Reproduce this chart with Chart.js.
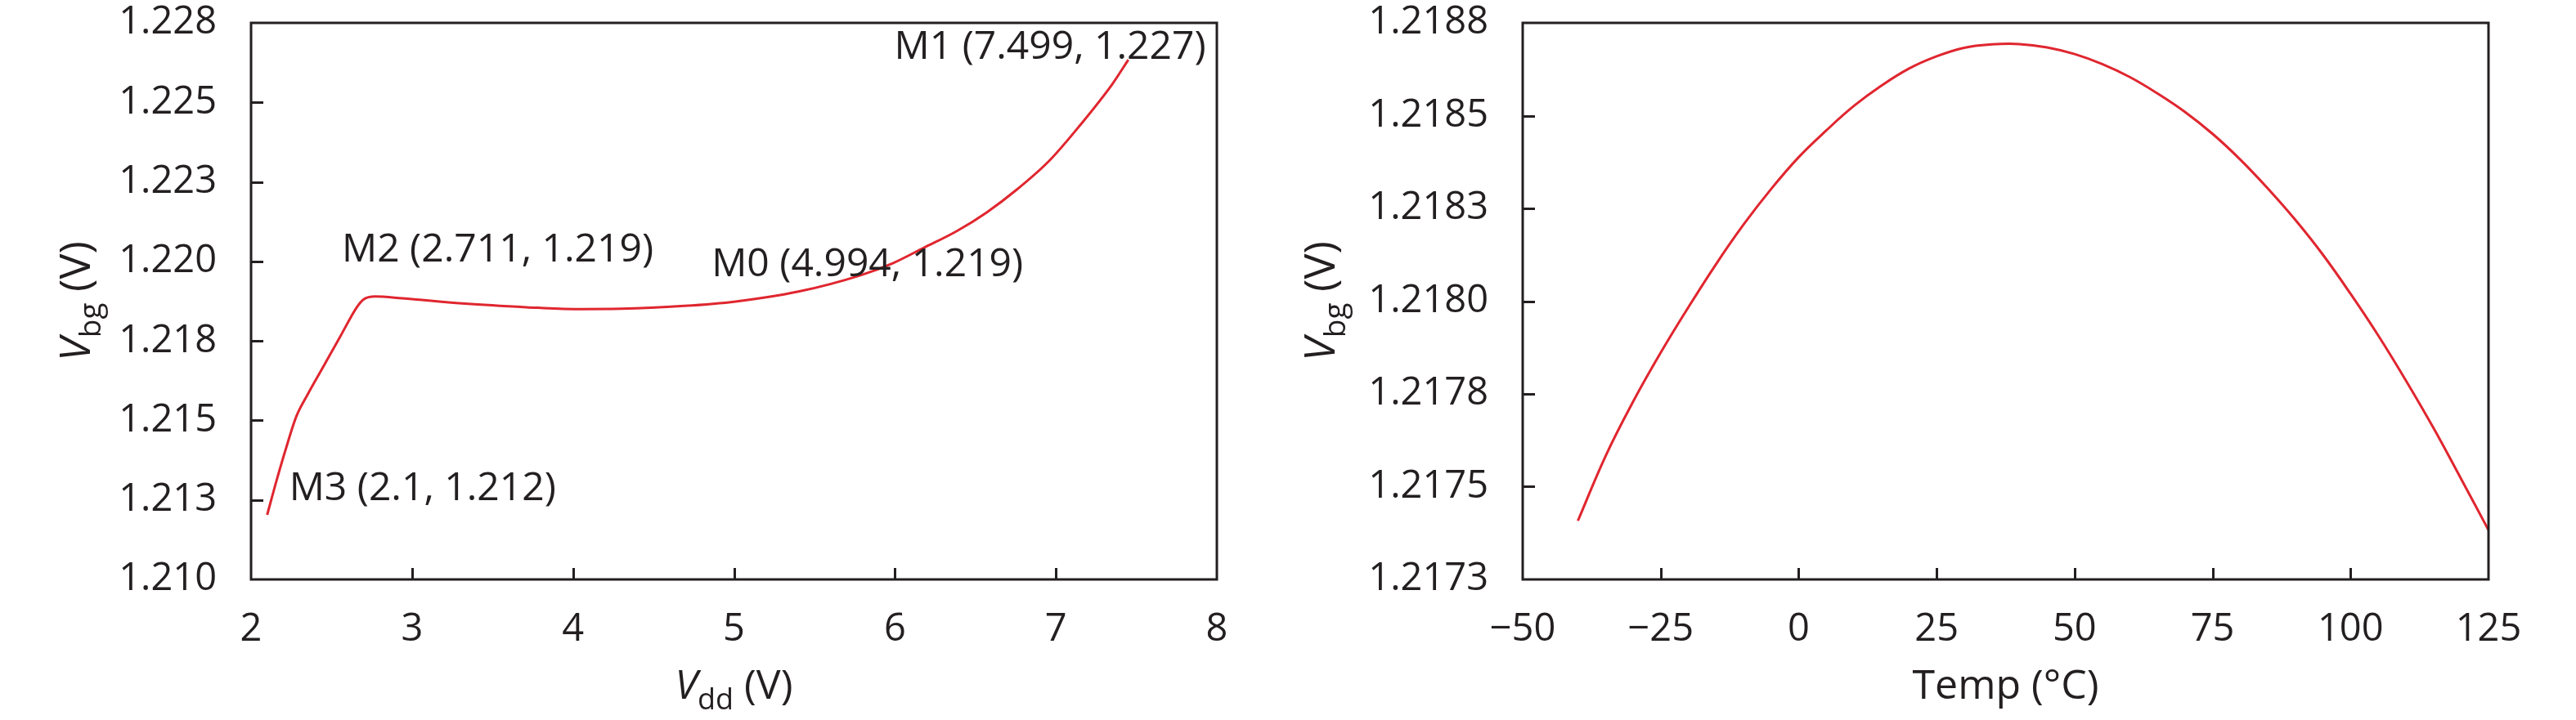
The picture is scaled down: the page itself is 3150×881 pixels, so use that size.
<!DOCTYPE html>
<html><head><meta charset="utf-8">
<script src="https://cdn.jsdelivr.net/npm/chart.js@4.4.1/dist/chart.umd.min.js"></script>
<style>
html,body{margin:0;padding:0;background:#fff;}
#wrap{position:relative;width:3150px;height:881px;background:#fff;}
canvas{position:absolute;top:0;}
</style></head><body>
<div id="wrap">
<canvas id="c1" width="1540" height="881" style="left:0px"></canvas>
<canvas id="c2" width="1600" height="881" style="left:1550px"></canvas>
</div>
<script>
// ---- Left panel: Vbg vs Vdd ----
const vddValues = [2.10,2.16,2.22,2.28,2.35,2.45,2.55,2.66,2.70,2.77,2.94,3.33,3.71,4.01,4.30,4.69,5.01,5.40,5.79,5.99,6.18,6.38,6.57,6.76,6.96,7.15,7.35,7.45];
const vbgVsVdd = [1.21203,1.21314,1.21417,1.21511,1.21580,1.21670,1.21760,1.21858,1.21881,1.21890,1.21884,1.21867,1.21856,1.21850,1.21851,1.21860,1.21874,1.21905,1.21957,1.21995,1.22043,1.22094,1.22154,1.22227,1.22317,1.22428,1.22557,1.22634];
const vddTicks = [2,3,4,5,6,7,8];
const vbgTicksLeft = [1.21,1.2125,1.215,1.2175,1.22,1.2225,1.225,1.2275];
const vbgTickLabelsLeft = ['1.210','1.213','1.215','1.218','1.220','1.223','1.225','1.228'];
const markerTexts = ['M1 (7.499, 1.227)','M2 (2.711, 1.219)','M0 (4.994, 1.219)','M3 (2.1, 1.212)'];
const markerAnchorX = [7.932, 2.564, 4.861, 2.237];
const markerAnchorY = [1.22637, 1.21999, 1.219534, 1.212493];
const markerAlign = ['right','left','left','left'];

// ---- Right panel: Vbg vs Temp ----
const tempValues = [-40,-35,-30,-25,-20,-15,-10,-5,0,5,10,15,20,25,30,35,40,45,50,55,60,65,70,75,80,85,90,95,100,105,110,115,120,125];
const vbgVsTemp = [1.217408,1.217582,1.217729,1.217861,1.217983,1.218099,1.218206,1.218302,1.218388,1.218460,1.218526,1.218581,1.218627,1.218660,1.218683,1.218692,1.218693,1.218684,1.218666,1.218639,1.218604,1.218560,1.218510,1.218451,1.218382,1.218304,1.218219,1.218125,1.218020,1.217908,1.217787,1.217659,1.217522,1.217383];
const tempTicks = [-50,-25,0,25,50,75,100,125];
const tempTickLabels = ['\u221250','\u221225','0','25','50','75','100','125'];
const vbgTicksRight = [1.21725,1.2175,1.21775,1.218,1.21825,1.2185,1.21875];
const vbgTickLabelsRight = ['1.2173','1.2175','1.2178','1.2180','1.2183','1.2185','1.2188'];

const INK = '#231f20';
const RED = '#e0262f';
const FONT = "'Open Sans', 'Noto Sans', sans-serif";

function drawRich(ctx, parts, x, y, size) {
  const subSize = Math.round(size * 0.72);
  const widths = parts.map(p => {
    ctx.font = (p.italic ? 'italic ' : '') + (p.sub ? subSize : size) + 'px ' + FONT;
    return ctx.measureText(p.t).width;
  });
  const total = widths.reduce((a, b) => a + b, 0);
  let cx = x - total / 2;
  parts.forEach((p, i) => {
    ctx.font = (p.italic ? 'italic ' : '') + (p.sub ? subSize : size) + 'px ' + FONT;
    ctx.fillText(p.t, cx, y + (p.sub ? size * 0.25 : 0));
    cx += widths[i];
  });
}

const framePlugin = {
  id: 'frame',
  afterDatasetsDraw(chart, args, opts) {
    const {ctx, chartArea: a, scales: {x, y}} = chart;
    ctx.save();
    ctx.strokeStyle = INK;
    ctx.lineWidth = 3;
    ctx.strokeRect(a.left, a.top, a.right - a.left, a.bottom - a.top);
    ctx.beginPath();
    x.ticks.forEach(t => {
      if (t.value <= x.min || t.value >= x.max) return;
      const px = Math.round(x.getPixelForValue(t.value)) + 0.5;
      ctx.moveTo(px, a.bottom); ctx.lineTo(px, a.bottom - 14);
    });
    y.ticks.forEach(t => {
      if (t.value <= y.min + 1e-9 || t.value >= y.max - 1e-9) return;
      const py = Math.round(y.getPixelForValue(t.value)) + 0.5;
      ctx.moveTo(a.left, py); ctx.lineTo(a.left + 15, py);
    });
    ctx.stroke();
    // axis titles
    ctx.fillStyle = INK;
    ctx.textBaseline = 'alphabetic';
    ctx.textAlign = 'left';
    drawRich(ctx, opts.xTitle, (a.left + a.right) / 2, a.bottom + 146, 50);
    ctx.translate(opts.yTitleX, (a.top + a.bottom) / 2);
    ctx.rotate(-Math.PI / 2);
    drawRich(ctx, opts.yTitle, 0, 0, 52);
    ctx.restore();
    // marker labels
    if (opts.markers) {
      ctx.save();
      ctx.fillStyle = INK;
      ctx.font = '48px ' + FONT;
      ctx.textBaseline = 'alphabetic';
      opts.markers.forEach(m => {
        ctx.textAlign = m.align;
        ctx.fillText(m.text, x.getPixelForValue(m.x), y.getPixelForValue(m.y));
      });
      ctx.restore();
    }
  }
};

function makeChart(id, xs, ys, xTicks, xLabels, yTicks, yLabels, xMin, xMax, yMin, yMax, yWidth, padRight, interp, extra) {
  const pts = xs.map((v, i) => ({x: v, y: ys[i]}));
  return new Chart(document.getElementById(id), {
    type: 'line',
    data: { datasets: [{ data: pts, borderColor: RED, borderWidth: 3, pointRadius: 0, fill: false,
                         cubicInterpolationMode: interp, tension: 0.4 }] },
    options: {
      responsive: false, animation: false, devicePixelRatio: 1,
      layout: { padding: { top: 28, right: padRight, bottom: 0, left: 0 } },
      plugins: { legend: { display: false }, tooltip: { enabled: false }, frame: extra },
      scales: {
        x: {
          type: 'linear', min: xMin, max: xMax,
          afterBuildTicks: s => { s.ticks = xTicks.map(v => ({value: v})); },
          afterFit: s => { s.height = 172; s.paddingLeft = 0; s.paddingRight = 0; },
          grid: { display: false, drawTicks: false },
          border: { display: false },
          ticks: { autoSkip: false, maxRotation: 0, padding: 38, color: INK,
                   font: { family: FONT, size: 47, lineHeight: 1 },
                   callback: (v, i) => xLabels[i] }
        },
        y: {
          type: 'linear', min: yMin, max: yMax,
          afterBuildTicks: s => { s.ticks = yTicks.map(v => ({value: v})); },
          afterFit: s => { s.width = yWidth; s.paddingTop = 0; s.paddingBottom = 0; },
          grid: { display: false, drawTicks: false },
          border: { display: false },
          ticks: { autoSkip: false, padding: 42, color: INK,
                   font: { family: FONT, size: 47, lineHeight: 1 },
                   callback: (v, i) => yLabels[i] }
        }
      }
    },
    plugins: [framePlugin]
  });
}

makeChart('c1', vddValues, vbgVsVdd, vddTicks, vddTicks.map(String), vbgTicksLeft, vbgTickLabelsLeft,
  2, 8, 1.21, 1.2275, 307, 52, 'monotone', {
    xTitle: [{t: 'V', italic: true}, {t: 'dd', sub: true}, {t: ' (V)'}],
    yTitle: [{t: 'V', italic: true}, {t: 'bg', sub: true}, {t: ' (V)'}],
    yTitleX: 110,
    markers: markerTexts.map((t, i) => ({text: t, x: markerAnchorX[i], y: markerAnchorY[i], align: markerAlign[i]}))
  });

makeChart('c2', tempValues, vbgVsTemp, tempTicks, tempTickLabels, vbgTicksRight, vbgTickLabelsRight,
  -50, 125, 1.21725, 1.21875, 312, 107, 'default', {
    xTitle: [{t: 'Temp (\u00B0C)'}],
    yTitle: [{t: 'V', italic: true}, {t: 'bg', sub: true}, {t: ' (V)'}],
    yTitleX: 82
  });
</script>
</body></html>
